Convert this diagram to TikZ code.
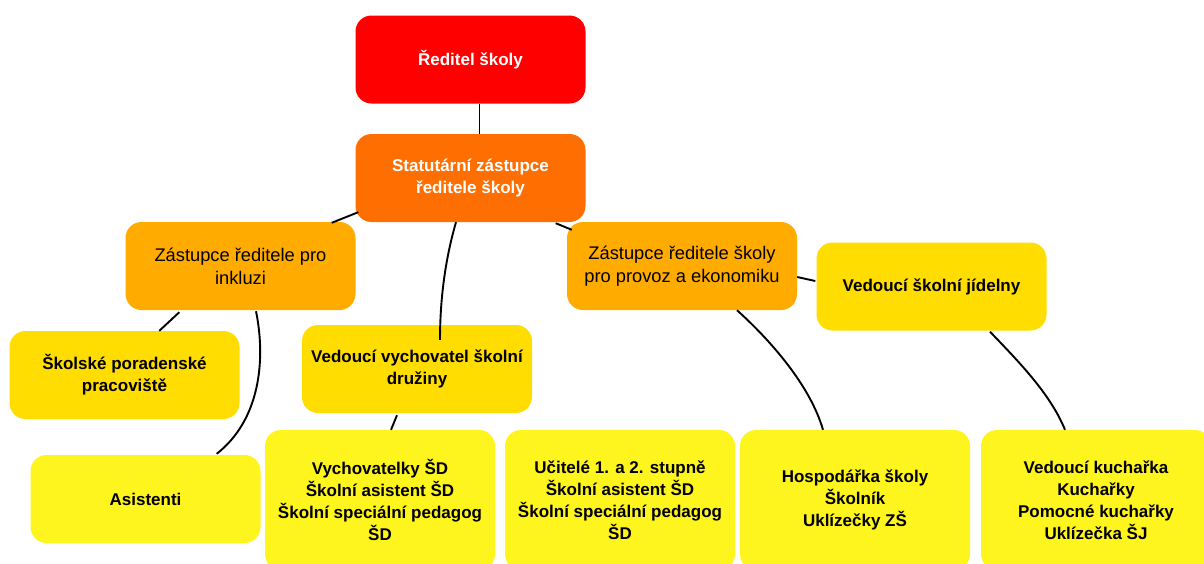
\documentclass[tikz,border=0pt]{standalone}
\usepackage{fontspec}
\setmainfont{Liberation Sans}
\usetikzlibrary{calc}
\definecolor{cred}{HTML}{FF0000}
\definecolor{corange}{HTML}{FF6E00}
\definecolor{camber}{HTML}{FFAB00}
\definecolor{cgold}{HTML}{FFDD00}
\definecolor{cyellow}{HTML}{FFF51E}
\tikzset{
  box/.style={rounded corners=16pt, minimum width=230pt, minimum height=88pt, inner sep=0pt, align=center, font=\bfseries\fontsize{17}{22}\selectfont},
  tallbox/.style={box, minimum height=140pt},
  regbox/.style={box, font=\mdseries\fontsize{18.3}{23}\selectfont},
  link/.style={draw=black, line width=1.9pt}
}
\begin{document}
\begin{tikzpicture}[x=1pt,y=-1pt]
\useasboundingbox (0,0) rectangle (1204,563);
% nodes
\node[box, fill=cred, text=white] (red) at (470.5,59.5) {Ředitel školy};
\node[box, fill=corange, text=white] (stat) at (470.5,178) {Statutární zástupce\\ředitele školy};
\node[regbox, fill=camber] (inkl) at (240.5,266) {Zástupce ředitele pro\\inkluzi};
\node[regbox, fill=camber] (prov) at (682,266) {Zástupce ředitele školy\\pro provoz a ekonomiku};
\node[box, fill=cgold] (jid) at (931.5,286.5) {Vedoucí školní jídelny};
\node[box, fill=cgold] (porad) at (124.5,375) {Školské poradenské\\pracoviště};
\node[box, fill=cgold] (vych) at (417,369) {Vedoucí vychovatel školní\\družiny};
\node[box, fill=cyellow] (asist) at (145.5,499) {Asistenti};
\node[tallbox, fill=cyellow] (vychky) at (380,500) {Vychovatelky ŠD\\Školní asistent ŠD\\Školní speciální pedagog\\ŠD};
\node[tallbox, fill=cyellow] (ucit) at (620,500) {Učitelé 1. a 2. stupně\\Školní asistent ŠD\\Školní speciální pedagog\\ŠD};
\node[tallbox, fill=cyellow] (hosp) at (855,500) {Hospodářka školy\\Školník\\Uklízečky ZŠ};
\node[tallbox, fill=cyellow] (kuch) at (1096,500) {Vedoucí kuchařka\\Kuchařky\\Pomocné kuchařky\\Uklízečka ŠJ};
% connectors
\draw[link] ($(red.south)+(9,0)$) -- ($(stat.north)+(9,0)$);
\draw[link] ($(stat.south west)+(3,-10)$) -- ($(inkl.north east)+(-24,1)$);
\draw[link] ($(stat.south)+(-14.5,0)$) .. controls (445,260) and (440,300) .. ($(vych.north)+(23,15)$);
\draw[link] ($(stat.south east)+(-30,1)$) -- ($(prov.north west)+(5,8)$);
\draw[link] ($(inkl.south west)+(54,2)$) -- ($(porad.north west)+(150,0)$);
\draw[link] ($(inkl.south)+(15.5,1)$) .. controls (266,360) and (260,420) .. ($(asist.north east)+(-44,-1)$);
\draw[link] ($(vych.south)+(-20,2)$) -- ($(vychky.north)+(11,0)$);
\draw[link] ($(prov.east)+(0,11)$) -- ($(jid.west)+(-1,-5.5)$);
\draw[link] ($(prov.south)+(55,0)$) .. controls (770,340) and (810,385) .. ($(hosp.north)+(-32,0)$);
\draw[link] ($(jid.south)+(58.5,1)$) .. controls (1017,360) and (1050,393) .. ($(kuch.north)+(-31,0)$);
\end{tikzpicture}
\end{document}
